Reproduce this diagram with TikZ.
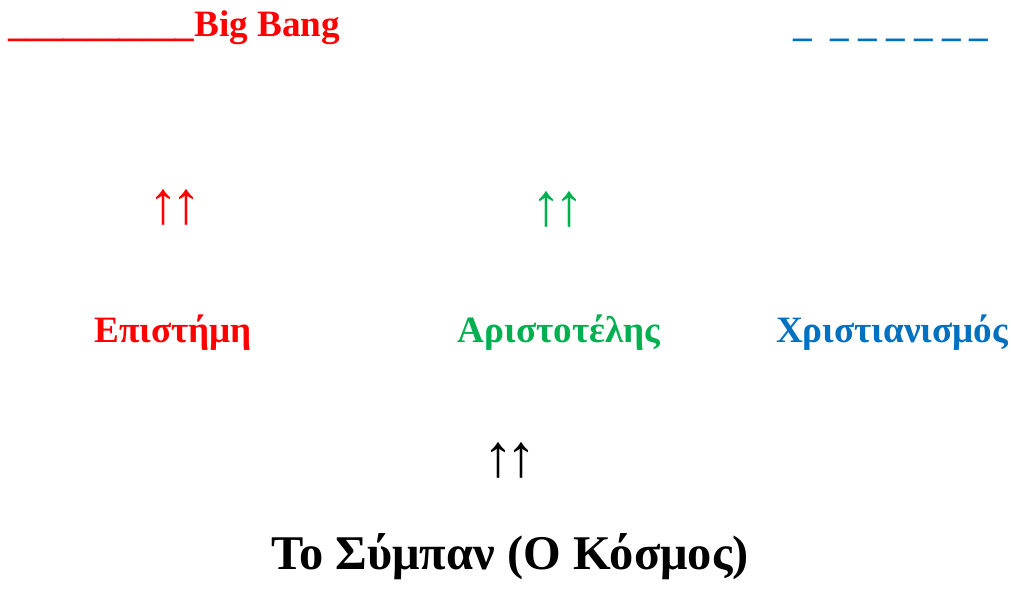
\documentclass[tikz,border=0pt]{standalone}
\usepackage{fontspec}
\setmainfont{Liberation Serif}
\definecolor{myred}{HTML}{FF0000}
\definecolor{mygreen}{HTML}{00B050}
\definecolor{myblue}{HTML}{0070C0}
\tikzset{
  lbl/.style={inner sep=0pt, font=\fontsize{37.2}{44}\selectfont\bfseries},
  arr/.style={inner sep=0pt, font=\fontsize{60}{66}\selectfont},
  ttl/.style={inner sep=0pt, font=\fontsize{48.4}{58}\selectfont\bfseries}
}
\newcommand{\uparr}{↑\kern-7pt↑}
\begin{document}
\begin{tikzpicture}[x=1pt,y=-1pt]
\useasboundingbox (0,0) rectangle (1011,589);
\node[lbl, text=myred, anchor=base west] (bb) at (8,36) {\_\_\_\_\_\_\_\_\_\_Big Bang};
\node[lbl, text=myblue, anchor=base west] (dash) at (793,36) {\_\ \ \_\ \_\ \_\ \_\ \_\ \_};
\node[arr, text=myred] (ar1) at (175,208) {\uparr};
\node[arr, text=mygreen] (ar2) at (558,210) {\uparr};
\node[lbl, text=myred, anchor=base] (epi) at (173,342) {Επιστήμη};
\node[lbl, text=mygreen, anchor=base] (ari) at (559,342) {Αριστοτέλης};
\node[lbl, text=myblue, anchor=base] (chr) at (892,342) {Χριστιανισμός};
\node[arr, text=black] (ar3) at (510,461) {\uparr};
\node[ttl, anchor=base] (ttl) at (510,569) {Το Σύμπαν (Ο Κόσμος)};
\end{tikzpicture}
\end{document}
